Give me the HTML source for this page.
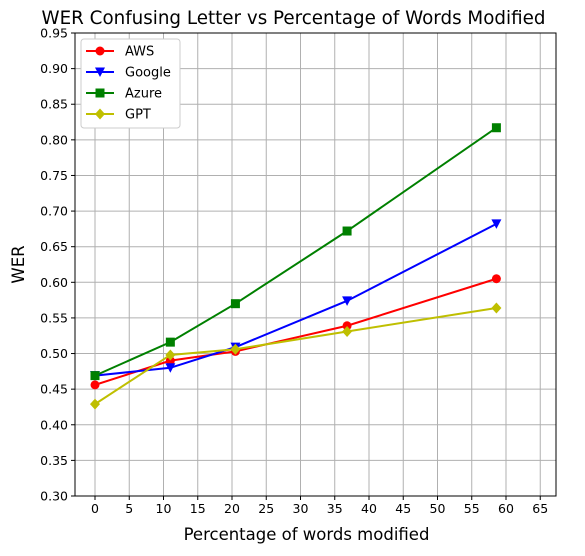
<!DOCTYPE html>
<html><head><meta charset="utf-8"><style>
body{margin:0;background:#fff;font-family:"DejaVu Sans","Liberation Sans",sans-serif;}
</style></head><body>
<svg id="chart" width="585" height="552" xmlns="http://www.w3.org/2000/svg"></svg>
<script>
const xValues=[0,11,20.5,36.8,58.6];
const seriesNames=["AWS","Google","Azure","GPT"];
const awsValues=[0.456,0.490,0.503,0.539,0.605];
const googleValues=[0.469,0.480,0.509,0.574,0.682];
const azureValues=[0.469,0.516,0.570,0.672,0.817];
const gptValues=[0.429,0.498,0.506,0.531,0.564];
const xTicks=[0,5,10,15,20,25,30,35,40,45,50,55,60,65];
const yTicks=[0.30,0.35,0.40,0.45,0.50,0.55,0.60,0.65,0.70,0.75,0.80,0.85,0.90,0.95];

const svg=document.getElementById('chart');
const NS='http://www.w3.org/2000/svg';
const L=75,R=556,T=33,B=496;
const xMin=-2.92,xMax=67.3,yMin=0.30,yMax=0.95;
const xs=v=>L+(v-xMin)/(xMax-xMin)*(R-L);
const ys=v=>B-(v-yMin)/(yMax-yMin)*(B-T);
function mk(tag,attrs,parent){const e=document.createElementNS(NS,tag);for(const k in attrs)e.setAttribute(k,attrs[k]);(parent||svg).appendChild(e);return e;}

const grid=mk('g',{});


xTicks.forEach(t=>{const x=xs(t);
 mk('line',{x1:x,x2:x,y1:T,y2:B,stroke:'#b0b0b0','stroke-width':1},grid);
 mk('line',{x1:x,x2:x,y1:B,y2:B+4,stroke:'#000','stroke-width':1});
 const tx=mk('text',{x:x,y:B+17,'text-anchor':'middle','font-size':12.5});tx.textContent=t;
 
 
});
yTicks.forEach(t=>{const y=ys(t);
 mk('line',{x1:L,x2:R,y1:y,y2:y,stroke:'#b0b0b0','stroke-width':1},grid);
 mk('line',{x1:L-4,x2:L,y1:y,y2:y,stroke:'#000','stroke-width':1});
 const tx=mk('text',{x:L-7,y:y+4.5,'text-anchor':'end','font-size':12.5});tx.textContent=t.toFixed(2);
 
 
});
mk('rect',{x:L,y:T,width:R-L,height:B-T,fill:'none',stroke:'#000','stroke-width':1});

const colors=['#ff0000','#0000ff','#008000','#bfbf00'];
const markers=['circle','tri','square','diamond'];
const all=[awsValues,googleValues,azureValues,gptValues];
function marker(type,x,y,c,g){
 if(type==='circle')mk('circle',{cx:x,cy:y,r:4.5,fill:c},g);
 else if(type==='tri')mk('polygon',{points:`${x-5},${y-4.5} ${x+5},${y-4.5} ${x},${y+5}`,fill:c},g);
 else if(type==='square')mk('rect',{x:x-4.5,y:y-4.5,width:9,height:9,fill:c},g);
 else mk('polygon',{points:`${x},${y-5.5} ${x+5},${y} ${x},${y+5.5} ${x-5},${y}`,fill:c},g);
}
all.forEach((vals,i)=>{
 const g=mk('g',{});
 
 
 mk('polyline',{points:vals.map((v,j)=>xs(xValues[j])+','+ys(v)).join(' '),fill:'none',stroke:colors[i],'stroke-width':2},g);
 vals.forEach((v,j)=>marker(markers[i],xs(xValues[j]),ys(v),colors[i],g));
});

const lg=mk('g',{});


mk('rect',{x:81,y:39,width:99,height:89,rx:3,fill:'#fff',stroke:'#ccc','stroke-width':1},lg);
seriesNames.forEach((n,i)=>{const y=51+i*21;
 const eg=mk('g',{},lg);
 
 
 mk('line',{x1:86,x2:114,y1:y,y2:y,stroke:colors[i],'stroke-width':2},eg);
 marker(markers[i],100,y,colors[i],eg);
 const t=mk('text',{x:125,y:y+4.5,'font-size':13},eg);t.textContent=n;
});

const title=mk('text',{x:(L+R)/2-22,y:24,'text-anchor':'middle','font-size':18.3});
title.textContent='WER Confusing Letter vs Percentage of Words Modified';


const xt=mk('text',{x:(L+R)/2-9,y:540,'text-anchor':'middle','font-size':16.5});
xt.textContent='Percentage of words modified';


const yt=mk('text',{x:24,y:(T+B)/2,'text-anchor':'middle','font-size':16.5,transform:`rotate(-90 24 ${(T+B)/2})`});
yt.textContent='WER';


</script>
</body></html>
